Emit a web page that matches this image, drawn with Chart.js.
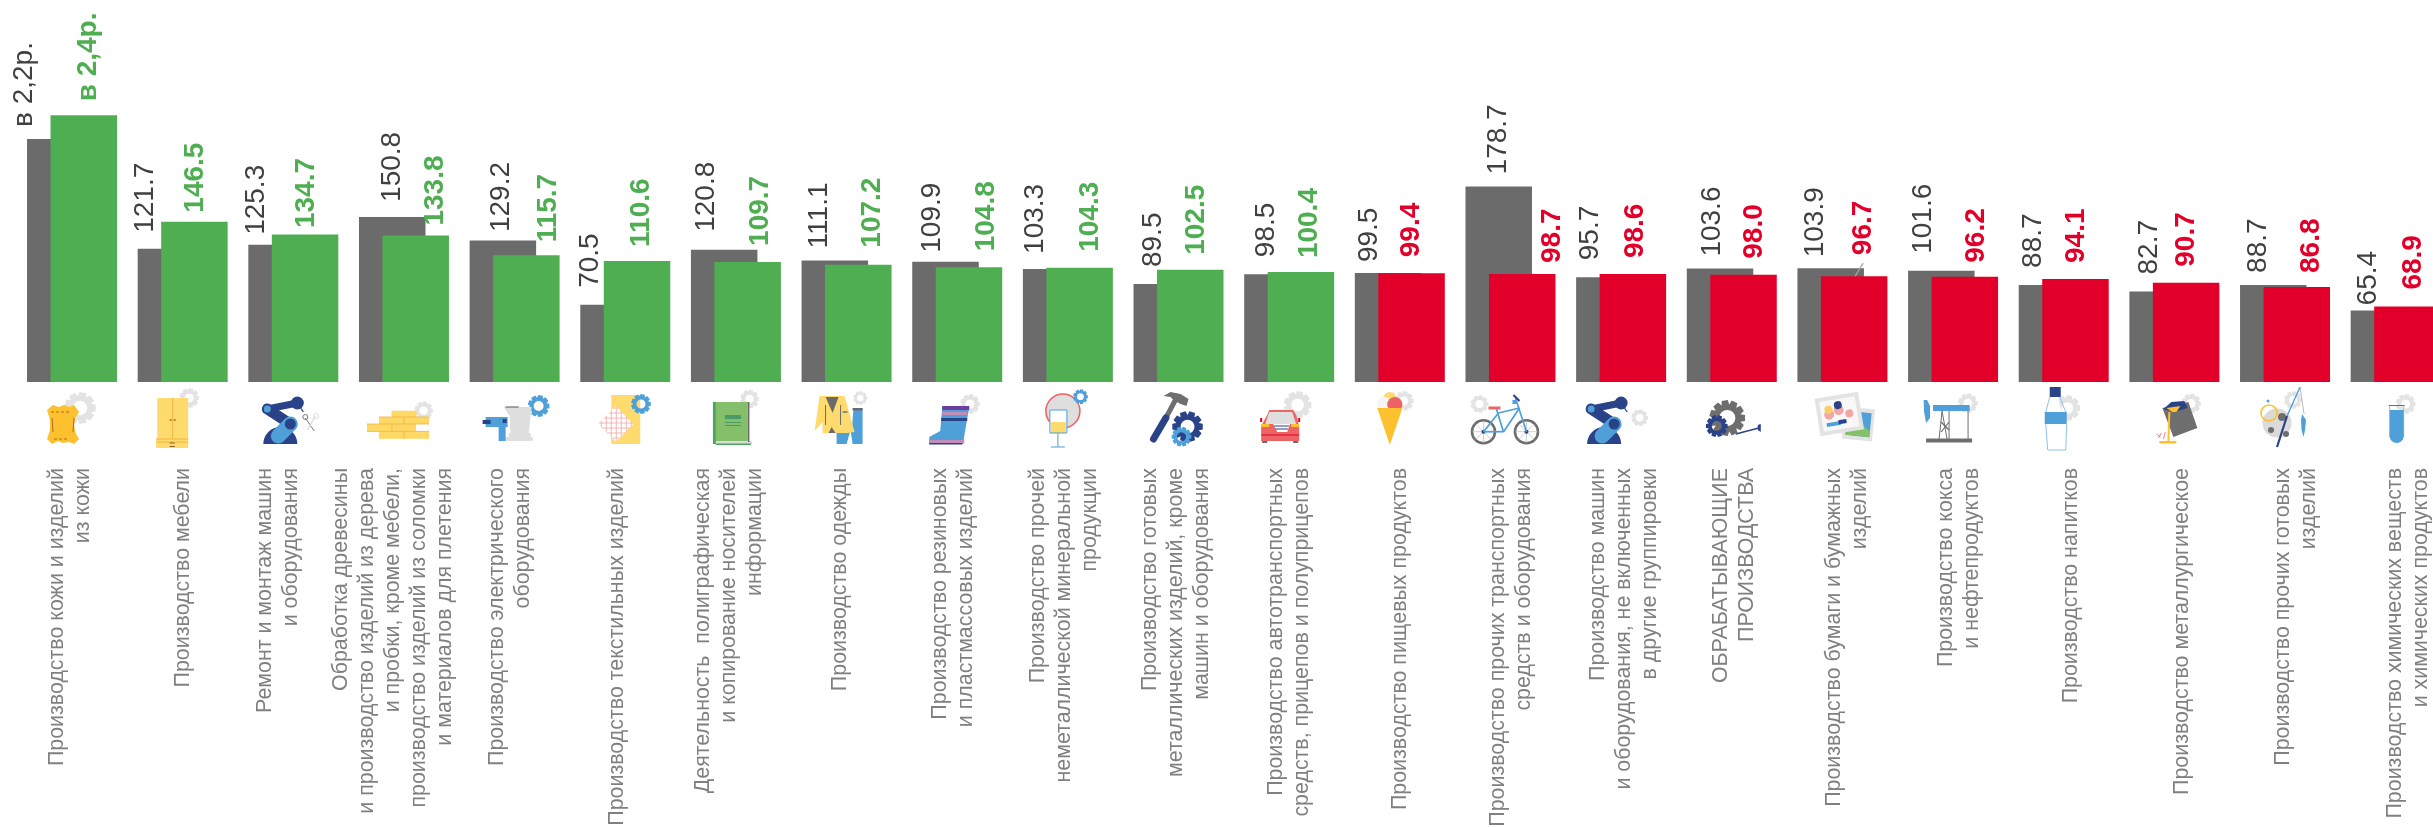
<!DOCTYPE html>
<html lang="ru"><head><meta charset="utf-8">
<style>html,body{margin:0;padding:0;background:#fff;overflow:hidden;width:2433px;height:827px}canvas{display:block}</style>
<script src="https://cdn.jsdelivr.net/npm/chart.js@4/dist/chart.umd.min.js"></script>
</head><body><canvas id="c" width="2451" height="827"></canvas>
<script>
const categories = [
 ["Производство кожи и изделий","из кожи"],
 ["Производство мебели"],
 ["Ремонт и монтаж машин","и оборудования"],
 ["Обработка древесины","и производство изделий из дерева","и пробки, кроме мебели,","производство изделий из соломки","и материалов для плетения"],
 ["Производство электрического","оборудования"],
 ["Производство текстильных изделий"],
 ["Деятельность  полиграфическая","и копирование носителей","информации"],
 ["Производство одежды"],
 ["Производство резиновых","и пластмассовых изделий"],
 ["Производство прочей","неметаллической минеральной","продукции"],
 ["Производство готовых","металлических изделий, кроме","машин и оборудования"],
 ["Производство автотранспортных","средств, прицепов и полуприцепов"],
 ["Производство пищевых продуктов"],
 ["Производство прочих транспортных","средств и оборудования"],
 ["Производство машин","и оборудования, не включенных","в другие группировки"],
 ["ОБРАБАТЫВАЮЩИЕ","ПРОИЗВОДСТВА"],
 ["Производство бумаги и бумажных","изделий"],
 ["Производство кокса","и нефтепродуктов"],
 ["Производство напитков"],
 ["Производство металлургическое"],
 ["Производство прочих готовых","изделий"],
 ["Производство химических веществ","и химических продуктов"]
];
const previousValues = [222,121.7,125.3,150.8,129.2,70.5,120.8,111.1,109.9,103.3,89.5,98.5,99.5,178.7,95.7,103.6,103.9,101.6,88.7,82.7,88.7,65.4];
const currentValues  = [243.6,146.5,134.7,133.8,115.7,110.6,109.7,107.2,104.8,104.3,102.5,100.4,99.4,98.7,98.6,98.0,96.7,96.2,94.1,90.7,86.8,68.9];
const previousText = ["в 2,2р.","121.7","125.3","150.8","129.2","70.5","120.8","111.1","109.9","103.3","89.5","98.5","99.5","178.7","95.7","103.6","103.9","101.6","88.7","82.7","88.7","65.4"];
const currentText  = ["в 2,4р.","146.5","134.7","133.8","115.7","110.6","109.7","107.2","104.8","104.3","102.5","100.4","99.4","98.7","98.6","98.0","96.7","96.2","94.1","90.7","86.8","68.9"];

// label placement relative to each bar (hand-placed in the original)
const prevDx = [-35.5,-26,-25,0.5,-2,-23,-17.5,-16,-13,-20.5,-13,-11,-18.5,0,-19,-8,-15,-18,-19,-13,-15,-16];
const prevGap = [12,16,10,15,8.5,17,18,12,9,15,17,17,11,12,17,12,11,17,17,17,12,5];
const currDx = [5,1,1,20,22,4,13,14,17,11,6,8,0,30,2,11,9,11,1,0,15,6];
const currGap = [14,9,6.5,10,13,14,16,17,16,16,15,14,16,11,16,16,21,14,16,16,14,17];
const tickDx = [-1.5,0,-15,-11,-5,-8,-6.5,-6,-4,-4,-2,0,0,1,3,2,4.6,6,7,8,10.6,12.7];

const GREY='#6B6B6B', GREEN='#4FAE51', RED='#E2002B', BLUE='#4F9FD8', NAVY='#2A4288', YEL='#FFDB6E', AMB='#FDC130', GEAR='#E3E3E3', DGREY='#6E6E6E';
const TICK_SIZE=21.4, TICK_LH=1.215;

function iconKit(ctx){
 const k={
  R(c,x,y,w,h){ctx.fillStyle=c;ctx.fillRect(x,y,w,h)},
  P(c,p){ctx.fillStyle=c;ctx.beginPath();p.forEach((q,i)=>i?ctx.lineTo(q[0],q[1]):ctx.moveTo(q[0],q[1]));ctx.closePath();ctx.fill()},
  C(c,x,y,r){ctx.fillStyle=c;ctx.beginPath();ctx.arc(x,y,r,0,7);ctx.fill()},
  O(c,w,x,y,r){ctx.strokeStyle=c;ctx.lineWidth=w;ctx.beginPath();ctx.arc(x,y,r,0,7);ctx.stroke()},
  L(c,w,x1,y1,x2,y2,cap){ctx.strokeStyle=c;ctx.lineWidth=w;ctx.lineCap=cap||'butt';ctx.beginPath();ctx.moveTo(x1,y1);ctx.lineTo(x2,y2);ctx.stroke();ctx.lineCap='butt'},
  G(x,y,r,c,n){c=c||GEAR;n=n||9;ctx.fillStyle=c;ctx.beginPath();
    const a=Math.PI*2/n;
    for(let i=0;i<n;i++){const t=i*a;
      [[-.5,.76],[-.3,1],[.3,1],[.5,.76]].forEach(([d,m],j)=>{const u=t+d*a,px=x+Math.cos(u)*r*m,py=y+Math.sin(u)*r*m;(i||j)?ctx.lineTo(px,py):ctx.moveTo(px,py)});}
    ctx.closePath();ctx.moveTo(x+r*.45,y);ctx.arc(x,y,r*.45,0,Math.PI*2,true);ctx.fill('evenodd')},
  robot(dx){
    ctx.fillStyle=NAVY;ctx.beginPath();ctx.arc(-13+dx,62,17,Math.PI,0);ctx.closePath();ctx.fill();
    k.L(NAVY,7,-26+dx,27,4+dx,21);k.C(NAVY,4+dx,21,6.5);k.L(NAVY,1.3,6+dx,24,10+dx,30);
    k.L(NAVY,11,-26+dx,27,-3+dx,42,'round');k.C(BLUE,-26+dx,27,3.5);
    k.L(BLUE,15,-15+dx,54,-3+dx,42,'round');k.C(NAVY,-3+dx,42,5.5);
  }
 };
 return k;
}
const icons=[
 k=>{k.G(8,26,16);k.P(AMB,[[-25,28],[-19,23],[-13,25],[-8,23],[-3,25],[2,23],[7,30],[3,36],[2,44],[4,52],[7,57],[2,62],[-3,60],[-9,61],[-14,59],[-20,62],[-25,57],[-22,48],[-22,38]]);
   [[-21,30,-3,30],[-18,57,-3,57]].forEach(s=>{for(let x=s[0];x<s[2];x+=5)k.L('#B5651D',1,x,s[1],x+3,s[1])});k.L('#B5651D',1,-20,36,-19,50);k.L('#B5651D',1,2,36,1,50)},
 k=>{k.G(6.5,16,10);k.R(YEL,-25.5,16,31,41);k.R(YEL,-26.5,57,32,9);k.L('#EFB440',1,-10,16,-10,57);k.L('#EFB440',1,-26.5,57,5.5,57);k.L('#EFB440',1,-26.5,60,5.5,60);k.R('#C9822B',-13,37,2,2);k.R('#C9822B',-9,37,2,2);k.R('#8A5A1E',-13,60.5,5,1);k.R('#8A5A1E',-13,64,5,1)},
 (k,ctx)=>{k.robot(0);k.L('#777',1,12,36,21,49);k.L('#DDD',1.5,22,34,14,48);k.O('#777',1,12,35,2.5);k.O('#DDD',1,23,34,2.5)},
 k=>{k.G(19.6,28.7,9.5);const a='#FFD866';k.R(a,-12.5,28.7,25,7);k.R(a,-25,35,50,7);k.R(a,-37,42,49,7.4);k.R(a,-25,49.4,50,7.4);k.L('#EFB440',.8,0,35,0,42);k.L('#EFB440',.8,-12,42,-12,49);k.L('#EFB440',.8,0,49,0,57);k.L('#EFB440',.8,-25,35,25,35);k.L('#EFB440',.8,-37,42,25,42);k.L('#EFB440',.8,-37,49.4,25,49.4)},
 k=>{k.G(24,24,11,BLUE);k.P('#DEDEDE',[[-11,25],[17,25],[14,52],[-4,52],[-5,34]]);k.R('#DEDEDE',-9,55,27,4);k.R('#DEDEDE',-6,51,22,4);k.L('#555',1,-9,25,4,25);k.R(BLUE,-29,35,22,10);k.R(NAVY,-32,38,8,4);k.R(BLUE,-16,44,7,15);k.R(NAVY,-12,37,4,4)},
 k=>{k.R(YEL,-14,13,29,49);k.G(15.7,22,10,BLUE);k.P('#fff',[[-9.4,24],[8,42],[-9.4,60],[-27,42]]);
    for(let t=-24;t<=6;t+=5)k.L('#F2A6A6',.8,t,42-(18-Math.abs(t+9.4)),t,42+(18-Math.abs(t+9.4)));
    for(let t=26;t<=58;t+=5){const w=18-Math.abs(t-42);k.L('#F2A6A6',.8,-9.4-w,t,-9.4+w,t)}},
 k=>{k.G(13.6,17,9.5);k.R('#4CA660',-23,20,3,42);k.R('#DADADA',-20,59,36,3);k.R(GREY,12,20,1.5,40);k.R('#4CA660',-20,61.5,35,1.5);k.R('#84BF6A',-20,20,32,39);k.R('#4A9A66',-11,33,16,4);k.R('#4A9A66',-11,40,16,1);k.R('#4A9A66',-11,43,16,1)},
 k=>{k.G(13.7,16,7);k.P(BLUE,[[-10,50],[5,50],[7,26],[16,26],[16,62],[6,62],[4,48],[0,62],[-10,62]]);k.R(GREY,6,26,10,2.5);
    k.P(YEL,[[-27,14],[-2,14],[8,50],[1,51],[-24,51],[-24,40],[-32,49]]);k.P(GREY,[[-21,15],[-8,15],[-14,31]]);k.P(GREY,[[-18,51],[-11,51],[-15,45]]);k.L(GREY,1,-21,23,-21,43);k.L(GREY,1,-6,23,-6,43);k.L(NAVY,1,-4,30,1,30)},
 k=>{k.G(12.7,22,10);k.P(BLUE,[[-15,25],[12,25],[7,54],[6,62],[-28,62],[-28,55],[-17,49]]);k.R('#6A3FA0',-15,24,27,4);k.R('#C48DB8',-15,30,25,3);k.R(NAVY,-16,36,26,3);k.R('#C48DB8',-28,58,35,3);k.R(NAVY,-28,61,33,1.5)},
 k=>{k.C('#DEDEDE',-5,29,17);k.O('#EE6464',1.6,-5,29,17);k.G(12.6,14.7,7.5,BLUE);k.R('#fff',-18,28,17,23);k.R(YEL,-17,40,15,11);k.L(BLUE,1,-18,28,-18,51);k.L(BLUE,1,-1,28,-1,51);k.L(BLUE,1,-18,28,-1,28);k.L(BLUE,1,-18,51,-1,51);k.L(BLUE,1,-10,51,-10,65);k.L(BLUE,1,-17,65,-3,65)},
 k=>{k.L(DGREY,5,-12.7,36,-1,14);k.L(NAVY,7,-25,57,-12.7,36,'round');k.P(DGREY,[[-15,14],[-8,10],[2,12],[10,17],[8,24],[2,22],[-5,18],[-8,15]]);k.G(9,44.7,15.5,NAVY,10);k.G(3,54.7,10,BLUE,10)},
 k=>{k.G(8.4,23,14);k.R(GREY,-27,54,5,7);k.R(GREY,4,54,5,7);k.P('#EE6464',[[-22,33],[-20,28],[4,28],[7,33],[10,44],[10,59],[-28,59],[-28,44]]);k.P('#DEDEDE',[[-20,30],[3,30],[7,42],[-24,42]]);k.R(AMB,-28,42,8,3);k.R(AMB,2,42,8,3);k.P('#fff',[[-16,42],[1,42],[-2,50],[-12,50]]);k.L(NAVY,1,-15,44,0,44);k.L(NAVY,1,-14,47,-1,47);k.L('#E2002B',1,-28,53,10,53);k.R('#E2002B',-29,36,2,4);k.R('#E2002B',9,36,2,4)},
 k=>{k.G(4,19,10);k.C(YEL,-10,16.5,6.6);k.C('#F5F5F5',-15.6,22,7.2);k.C('#EE6464',-5,22.5,7.6);k.R('#fff',-24,26,28,4);k.P(AMB,[[-22.6,26],[2.6,26],[-10,63]])},
 k=>{k.G(-31,22,9);[-27,16].forEach(x=>{k.O(DGREY,2.6,x,49.7,11.5);for(let t=0;t<4;t++){const a=t*Math.PI/4;k.L('#BBB',.7,x-Math.cos(a)*11,49.7-Math.sin(a)*11,x+Math.cos(a)*11,49.7+Math.sin(a)*11)}k.C(NAVY,x,49.7,2)});
    k.L(BLUE,1.7,-27,49.7,-12,31);k.L(BLUE,1.7,-12,31,9,26);k.L(BLUE,1.7,-27,49.7,-7,49.7);k.L(BLUE,1.7,-14,27,-7,50);k.L(BLUE,1.7,-7,50,9,26);k.L(BLUE,1.7,16,49.7,5,16);k.L(NAVY,2,3,13,9,19);k.L('#EE6464',3,-22,26,-10,26);k.R(BLUE,2,18,4,4)},
 k=>{k.robot(-4);k.G(18.5,35.7,8.5)},
 k=>{k.G(-4.5,36,18,DGREY,11);k.L(NAVY,1.5,4,52,27,46);k.P(NAVY,[[26,43],[29,42],[29,50],[26,48]]);k.G(-15,44,11,NAVY,10)},
 (k,ctx)=>{ctx.save();ctx.translate(16,43);ctx.rotate(.1);k.R('#E3E3E3',-15,-17,30,32);k.R(BLUE,-12,-13,24,24);k.P('#84BF6A',[[-12,11],[-12,0],[0,-3],[12,5],[12,11]]);ctx.restore();
    ctx.save();ctx.translate(-3,33);ctx.rotate(-.16);k.R('#E3E3E3',-22,-20,44,38);k.R('#F8F8F8',-18,-16,36,30);k.C('#F2A6A6',-10,-2,5);k.C('#F9D160',-10,-7,4);k.C('#F2A6A6',0,-5,5);k.C(NAVY,0,-10,4);k.C('#F2A6A6',10,0,4);k.R(BLUE,-14,6,14,4);k.R(NAVY,-2,5,8,4);ctx.restore()},
 k=>{k.G(14.8,21.3,10);k.R(BLUE,-20,23,36.6,6);k.P(BLUE,[[-29.4,18],[-26,18],[-23,24],[-23,36],[-27,41],[-29,30]]);k.L(DGREY,1,-11,29,-14,57);k.L(DGREY,1,15,29,15,57);k.L(DGREY,1,-11,29,-6,57);k.L(DGREY,1,-4,29,-4,57);k.L(GREY,1.2,-12,40,-4,48);k.L(GREY,1.2,-4,40,-12,50);k.R(DGREY,-27,56.5,46,4)},
 k=>{k.G(3.6,26,13);k.P('#fff',[[-14,14],[-7,14],[-2,29],[-1,50],[3,66],[-17,66],[-18,36]]);k.R(NAVY,-14,5,11,10);k.P(BLUE,[[-19,30],[3,30],[3,42],[-19,42]]);k.L('#8CC3EA',1,-18,42,-16,68);k.L('#8CC3EA',1,3,42,2,68);k.L('#8CC3EA',1,-16,68,2,68);k.L('#8CC3EA',1,-14,15,-18,30);k.L('#8CC3EA',1,-4,15,2,30)},
 k=>{k.G(16.7,21.6,10);k.P(DGREY,[[-12,26],[14,20],[23,46],[-1,55]]);k.P(NAVY,[[-11,27],[-3,20],[10,19],[13,26],[0,30]]);k.P(AMB,[[-8,26],[6,24],[2,30],[-2,30]]);k.L(AMB,2,-5,30,-6,59);k.R(AMB,-15,59,17,2.5);k.L('#EE6464',.8,-13,51,-16,56);k.L('#EE6464',.8,-9,50,-11,57);k.L('#EE6464',.8,-14,55,-18,52)},
 k=>{k.G(8,18,9);k.C('#DADADA',-8,41,14.5);k.C(DGREY,-3,35,4);k.C(DGREY,-14,48,3);k.C(DGREY,1,52,3);k.O(AMB,1.6,-16,31,8);k.C(BLUE,-17,19,1.5);k.L(NAVY,2.2,-8,65,2,34);k.L(BLUE,1.4,2,34,15,5);k.L('#999',.7,15,5,19,32);k.P(BLUE,[[17,32],[21,38],[20,48],[18.5,55],[16.5,48],[16,38]])},
 k=>{k.G(10,22,10);k.L(DGREY,1,-7,23.5,9,23.5);k.L('#BBB',1,-6,24,-6,55);k.L('#BBB',1,8,24,8,55);k.R(BLUE,-6,28,14,27);k.C(BLUE,1,54,7)}
];

const iconPlugin={id:'icons',afterDraw(chart){
  const ctx=chart.ctx,x=chart.scales.x,k=iconKit(ctx),base=chart.chartArea.bottom;
  icons.forEach((fn,i)=>{ctx.save();ctx.translate(x.getPixelForTick(i),base);fn(k,ctx);ctx.restore()});
}};
// Rotated multi-line ticks start at the tick in Chart.js; the reference centres the block and nudges it.
const tickCentre={id:'tickCentre',beforeDraw(chart){
  const s=chart.scales.x,items=s.getLabelItems(chart.chartArea);
  if(items._centred)return;items._centred=true;
  const lh=TICK_SIZE*TICK_LH;
  items.forEach((it,i)=>{it.options.translation[0]+=tickDx[i]-(categories[i].length-1)/2*lh});
}};
// dataset 0 = current (drawn on top), dataset 1 = previous
const labelPlugin={id:'valueLabels',afterDatasetsDraw(chart){
  const ctx=chart.ctx;
  const leader=chart.getDatasetMeta(0).data[16];
  ctx.save();ctx.strokeStyle='#A6A6A6';ctx.lineWidth=1.2;ctx.beginPath();ctx.moveTo(leader.x+9,leader.y-13);ctx.lineTo(leader.x+1,leader.y);ctx.stroke();ctx.restore();
  const sets=[{d:1,texts:previousText,dx:prevDx,gap:prevGap,font:'28px "Liberation Sans"',col:()=>'#404040'},
              {d:0,texts:currentText,dx:currDx,gap:currGap,font:'bold 28px "Liberation Sans"',col:i=>currentValues[i]>=100?GREEN:RED}];
  sets.forEach(s=>{chart.getDatasetMeta(s.d).data.forEach((bar,i)=>{
    ctx.save();ctx.translate(bar.x+s.dx[i],bar.y-s.gap[i]);ctx.rotate(-Math.PI/2);
    ctx.font=s.font;ctx.fillStyle=s.col(i);ctx.textAlign='left';ctx.textBaseline='middle';
    ctx.fillText(s.texts[i],0,0);ctx.restore();
  })});
}};

// negative percentages mirror the group: the first dataset sits on the right and is painted last
const groupSpread=-0.4247, barSpread=-2.83;
new Chart(document.getElementById('c'),{
 type:'bar',
 data:{labels:categories,datasets:[
  {data:currentValues,backgroundColor:currentValues.map(v=>v>=100?GREEN:RED),categoryPercentage:groupSpread,barPercentage:barSpread},
  {data:previousValues,backgroundColor:GREY,categoryPercentage:groupSpread,barPercentage:barSpread}
 ]},
 options:{responsive:false,animation:false,devicePixelRatio:1,
  layout:{padding:{left:16.7,right:0,top:0,bottom:0}},
  plugins:{legend:{display:false},tooltip:{enabled:false}},
  scales:{
   y:{display:false,min:0,max:349},
   x:{offset:true,grid:{display:false,drawTicks:false},border:{display:false},
      afterFit(s){s.height=445;s.paddingLeft=0;s.paddingRight=0},
      ticks:{autoSkip:false,minRotation:90,maxRotation:90,padding:86,color:'#808080',
             font:{family:'"Liberation Sans"',size:TICK_SIZE,lineHeight:TICK_LH}}}
  }},
 plugins:[tickCentre,labelPlugin,iconPlugin]
});
</script></body></html>
